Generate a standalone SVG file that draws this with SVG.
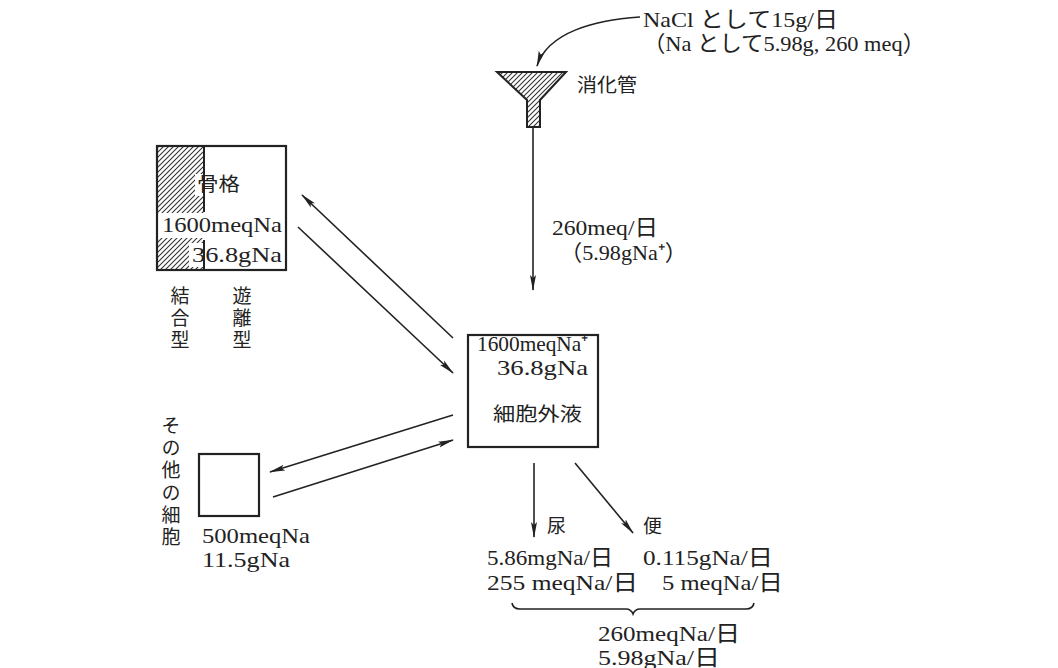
<svg xmlns="http://www.w3.org/2000/svg" width="1058" height="668" viewBox="0 0 1058 668">
<style>
.t{font-family:"Liberation Serif","Noto Sans CJK JP",serif;font-size:22px;fill:#222}
.j{font-family:"Noto Sans CJK JP","Liberation Serif",sans-serif;font-size:19px;fill:#222}
.v{font-family:"Noto Sans CJK JP",sans-serif;font-size:19px;fill:#222;writing-mode:vertical-rl;letter-spacing:3px}
.ln{stroke:#222;stroke-width:1.6;fill:none}
.bx{stroke:#222;stroke-width:2.2;fill:none}
</style>
<defs>
<pattern id="hatch" patternUnits="userSpaceOnUse" width="5" height="5">
<path d="M-1,6 L6,-1 M-1,1 L1,-1 M4,6 L6,4" stroke="#333" stroke-width="1.1"/>
</pattern>
<marker id="ah" markerWidth="16" markerHeight="8" refX="15" refY="4" orient="auto" markerUnits="userSpaceOnUse">
<path d="M0,1 L16,4 L0,7 L3,4 z" fill="#222"/>
</marker>
</defs>
<rect width="1058" height="668" fill="#fff"/>

<g id="source">
<text class="t" x="643" y="27" textLength="195" lengthAdjust="spacingAndGlyphs">NaCl として15g/日</text>
<text class="t" x="643" y="51" textLength="282" lengthAdjust="spacingAndGlyphs">（Na として5.98g, 260 meq）</text>
</g>

<g id="funnel">
<path d="M497,72 L566,72 L540,100 L540,127 L527,127 L527,100 Z" fill="url(#hatch)" stroke="#222" stroke-width="2"/>
<text class="j" x="577" y="92" font-size="20" textLength="60" lengthAdjust="spacingAndGlyphs">消化管</text>
</g>

<g id="skeleton">
<rect x="157" y="146" width="47" height="124" fill="url(#hatch)"/>
<rect x="158" y="213" width="127" height="25" fill="#fff"/>
<rect x="189" y="243" width="15" height="24" fill="#fff"/>
<rect x="195" y="174" width="9" height="22" fill="#fff"/>
<path d="M204,146 V212 M204,240 V270" stroke="#222" stroke-width="2"/>
<rect class="bx" x="157" y="146" width="129" height="124"/>
<text class="j" x="197" y="191" font-size="20" textLength="43" lengthAdjust="spacingAndGlyphs">骨格</text>
<text class="t" x="162" y="232" textLength="120" lengthAdjust="spacingAndGlyphs">1600meqNa</text>
<text class="t" x="192" y="262" textLength="90" lengthAdjust="spacingAndGlyphs">36.8gNa</text>
<text class="v" x="180" y="286">結合型</text>
<text class="v" x="242" y="286">遊離型</text>
</g>

<g id="ecf">
<rect class="bx" x="468" y="335" width="130" height="112"/>
<text class="t" x="477" y="351" textLength="111" lengthAdjust="spacingAndGlyphs">1600meqNa⁺</text>
<text class="t" x="497" y="375" textLength="91" lengthAdjust="spacingAndGlyphs">36.8gNa</text>
<text class="j" x="493" y="421" font-size="20" textLength="89" lengthAdjust="spacingAndGlyphs">細胞外液</text>
</g>

<g id="othercells">
<rect class="bx" x="199" y="454" width="60" height="62"/>
<text class="v" x="171" y="416" style="letter-spacing:3.3px">その他の細胞</text>
<text class="t" x="202" y="543" textLength="108" lengthAdjust="spacingAndGlyphs">500meqNa</text>
<text class="t" x="202" y="567" textLength="88" lengthAdjust="spacingAndGlyphs">11.5gNa</text>
</g>

<g id="excretion">
<text class="j" x="547" y="533" font-size="20">尿</text>
<text class="j" x="643" y="533" font-size="20">便</text>
<text class="t" x="487" y="565" textLength="126" lengthAdjust="spacingAndGlyphs">5.86mgNa/日</text>
<text class="t" x="643" y="565" textLength="130" lengthAdjust="spacingAndGlyphs">0.115gNa/日</text>
<text class="t" x="487" y="590" textLength="151" lengthAdjust="spacingAndGlyphs">255  meqNa/日</text>
<text class="t" x="662" y="590" textLength="121" lengthAdjust="spacingAndGlyphs">5 meqNa/日</text>
<path class="ln" d="M512,603 Q513,609 520,609 L626,609 Q631,609 633,614 Q635,609 640,609 L746,609 Q753,609 754,603" stroke-width="1.4"/>
<text class="t" x="598" y="641" textLength="142" lengthAdjust="spacingAndGlyphs">260meqNa/日</text>
<text class="t" x="598" y="665" textLength="122" lengthAdjust="spacingAndGlyphs">5.98gNa/日</text>
</g>

<g id="intake-label">
<text class="t" x="552" y="235" textLength="106" lengthAdjust="spacingAndGlyphs">260meq/日</text>
<text class="t" x="560" y="260" textLength="127" lengthAdjust="spacingAndGlyphs">（5.98gNa⁺）</text>
</g>

<g id="connectors">
<path class="ln" d="M640,17 C595,20 548,32 537,66" marker-end="url(#ah)"/>
<path class="ln" d="M533,127 V290" marker-end="url(#ah)"/>
<path class="ln" d="M453,338 L302,195" marker-end="url(#ah)"/>
<path class="ln" d="M298,227 L453,373" marker-end="url(#ah)"/>
<path class="ln" d="M453,415 L270,472" marker-end="url(#ah)"/>
<path class="ln" d="M273,497 L453,440" marker-end="url(#ah)"/>
<path class="ln" d="M534,463 V537" marker-end="url(#ah)"/>
<path class="ln" d="M575,463 L633,533" marker-end="url(#ah)"/>
</g>
</svg>
